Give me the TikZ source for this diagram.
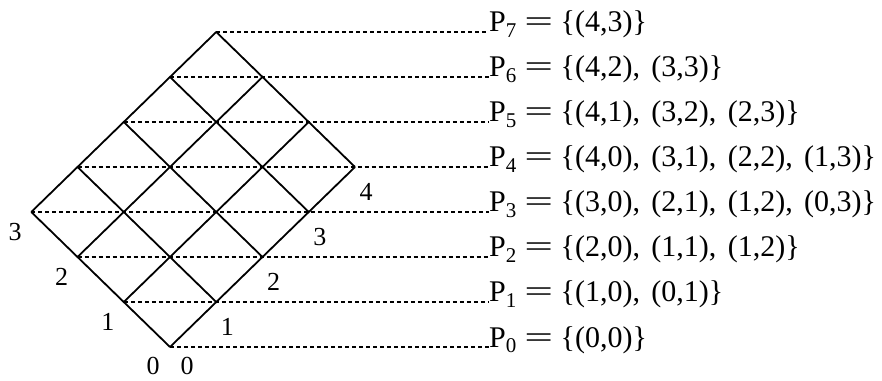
\documentclass[tikz,border=0pt]{standalone}
\usepackage{fontspec}
\usepackage{graphicx}
\setmainfont{Liberation Serif}
\usetikzlibrary{calc}

\newcommand{\eqsign}{\scalebox{1.7}[1]{=}}
\newcommand{\pairsep}{,\hspace{0.38em}}

\begin{document}
\begin{tikzpicture}[
  x=1pt,
  y=1pt,
  gridline/.style={line width=1.8pt},
  rowline/.style={line width=1.2pt,dash pattern=on 4pt off 3pt},
  setlabel/.style={font=\fontsize{30}{34}\selectfont,anchor=base west,inner sep=0pt},
  axislabel/.style={font=\fontsize{26}{30}\selectfont,inner sep=0pt}
]
\useasboundingbox (0,0) rectangle (882,380);

% Lattice points (i along the right edge, j along the left edge)
\foreach \i in {0,...,4}{
  \foreach \j in {0,...,3}{
    \coordinate (g\i\j) at ({170+46.25*(\i-\j)},{33+45*(\i+\j)});
  }
}

% Grid
\foreach \i in {0,...,4}{
  \draw[gridline] (g\i0) -- (g\i3);
}
\foreach \j in {0,...,3}{
  \draw[gridline] (g0\j) -- (g4\j);
}

% Level sets and their dashed leaders
\foreach \k/\i/\j/\set in {
  0/0/0/{\{(0,0)\}},
  1/0/1/{\{(1,0)\pairsep(0,1)\}},
  2/0/2/{\{(2,0)\pairsep(1,1)\pairsep(1,2)\}},
  3/0/3/{\{(3,0)\pairsep(2,1)\pairsep(1,2)\pairsep(0,3)\}},
  4/1/3/{\{(4,0)\pairsep(3,1)\pairsep(2,2)\pairsep(1,3)\}},
  5/2/3/{\{(4,1)\pairsep(3,2)\pairsep(2,3)\}},
  6/3/3/{\{(4,2)\pairsep(3,3)\}},
  7/4/3/{\{(4,3)\}}}{
  \node[setlabel] (p\k) at (489,{33+45*\k}) {P\textsubscript{\k} \eqsign{} \set};
  \draw[rowline] (g\i\j) -- (p\k.base west);
}

% Edge labels
\foreach \i in {1,...,4}{
  \node[axislabel] (r\i) at ($(g\i0)+(11,-25)$) {\i};
}
\node[axislabel] (r0) at ($(g00)+(17,-19)$) {0};
\foreach \j in {1,...,3}{
  \node[axislabel] (l\j) at ($(g0\j)+(-16,-20)$) {\j};
}
\node[axislabel] (l0) at ($(g00)+(-17,-19)$) {0};

\end{tikzpicture}
\end{document}
